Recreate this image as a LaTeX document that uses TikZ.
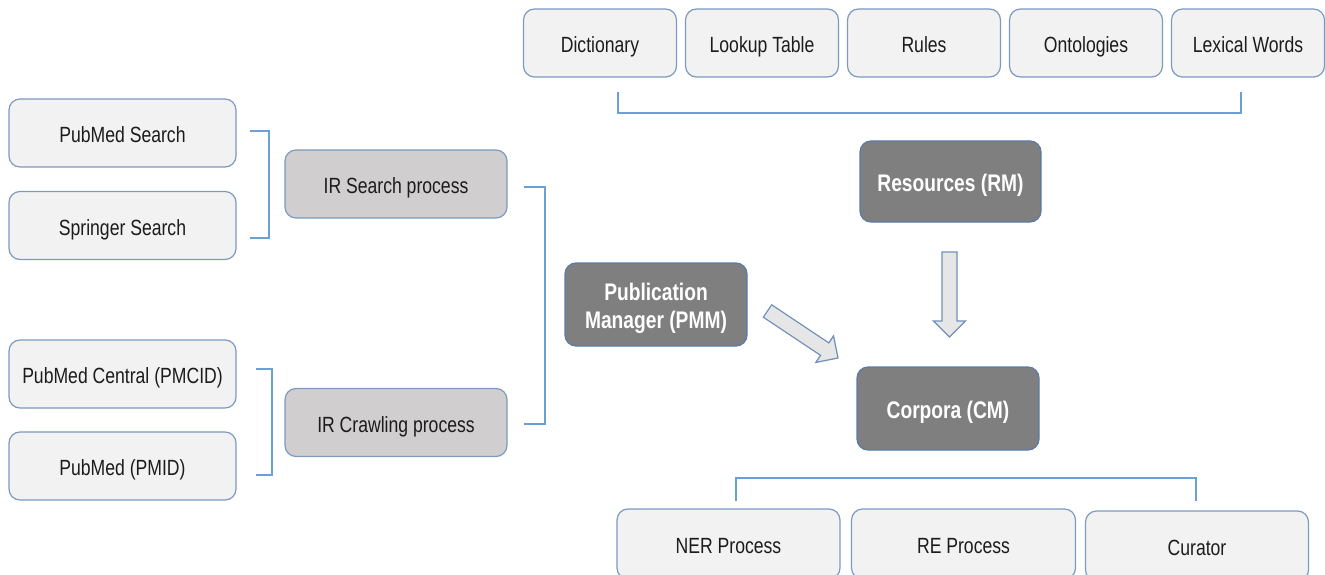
\documentclass[tikz,border=0pt]{standalone}
\usepackage{fontspec}
\setmainfont{Liberation Sans}[FakeStretch=0.8]
\usetikzlibrary{calc}

\definecolor{boxfill}{HTML}{F2F2F2}
\definecolor{boxline}{HTML}{7D9AC0}
\definecolor{midfill}{HTML}{D0CECE}
\definecolor{darkfill}{HTML}{7F7F7F}
\definecolor{darkline}{HTML}{5A7BA8}
\definecolor{bracket}{HTML}{6B9FD6}
\definecolor{arrowfill}{HTML}{E6E6E6}
\definecolor{arrowline}{HTML}{6F90BA}
\definecolor{ink}{HTML}{1C1C1C}

\tikzset{
  every node/.style={inner sep=0pt, outer sep=0pt},
  base/.style={rectangle, rounded corners=11pt, line width=1.2pt,
    font=\fontsize{22}{28}\selectfont, text=ink, align=center,
    text height=21pt, text depth=2pt},
  lightbox/.style={base, draw=boxline, fill=boxfill},
  midbox/.style={base, draw=boxline, fill=midfill},
  darkbox/.style={base, draw=darkline, fill=darkfill, text=white,
    font=\fontsize{24}{28}\selectfont\bfseries},
  brk/.style={draw=bracket, line width=1.5pt},
  blockarrow/.style={draw=arrowline, fill=arrowfill, line width=1.2pt, line join=miter}
}

\begin{document}
\begin{tikzpicture}[x=1pt, y=-1pt]
\useasboundingbox (0,0) rectangle (1325,575);

% resources row
\foreach \nm/\cx/\txt in {dict/600/Dictionary, lookup/762/Lookup Table,
    rules/924/Rules, onto/1086/Ontologies, lex/1248/Lexical Words}
  \node[lightbox, minimum width=153pt, minimum height=68pt] (\nm) at (\cx,43) {\txt};

% sources
\node[lightbox, minimum width=227pt, minimum height=68pt] (pms)  at (122.5,133)   {PubMed Search};
\node[lightbox, minimum width=227pt, minimum height=68pt] (sps)  at (122.5,225.5) {Springer Search};
\node[lightbox, minimum width=227pt, minimum height=68pt] (pmc)  at (122.5,374)   {PubMed Central (PMCID)};
\node[lightbox, minimum width=227pt, minimum height=68pt] (pmid) at (122.5,466)   {PubMed (PMID)};

% retrieval processes
\node[midbox, minimum width=222pt, minimum height=68pt] (irs) at (396,184)   {IR Search process};
\node[midbox, minimum width=222pt, minimum height=68pt] (irc) at (396,422.5) {IR Crawling process};

% managers (two-line label: baseline sits on the last line)
\node[darkbox, minimum width=182pt, minimum height=83pt, text height=49pt]
  (pmm) at (656,304.5) {Publication\\Manager (PMM)};
\node[darkbox, minimum width=181pt, minimum height=81pt] (rm)  at (950.5,181.5) {Resources (RM)};
\node[darkbox, minimum width=182pt, minimum height=83pt] (cm)  at (948,408.5) {Corpora (CM)};

% corpus processes
\node[lightbox, minimum width=223pt, minimum height=70pt] (ner) at (728.5,544) {NER Process};
\node[lightbox, minimum width=224pt, minimum height=70pt] (re)  at (963.5,544) {RE Process};
\node[lightbox, minimum width=223pt, minimum height=70pt] (cur) at (1197,546)  {Curator};

% brackets
\draw[brk] (250,131) -- (269,131) -- (269,238) -- (250,238);
\draw[brk] (256,369) -- (272,369) -- (272,475) -- (256,475);
\draw[brk] (524,187) -- (545,187) -- (545,424) -- (524,424);
\draw[brk] (618,92) -- (618,113) -- (1241,113) -- (1241,92);
\draw[brk] (736,501) -- (736,478) -- (1196,478) -- (1196,501);

% block arrows
\coordinate (rm-out) at (949.5,252);
\coordinate (cm-top) at (949.5,337);
\coordinate (pmm-out) at (767.5,311);
\coordinate (cm-left) at (838,358);
\foreach \a/\b in {rm-out/cm-top, pmm-out/cm-left}{
  \coordinate (h) at ($(\b)!16pt!(\a)$);
  \draw[blockarrow]
    ($(\a)!7.5pt!90:(\b)$) -- ($(h)!7.5pt!-90:(\a)$) -- ($(h)!16pt!-90:(\a)$)
    -- (\b) -- ($(h)!16pt!90:(\a)$) -- ($(h)!7.5pt!90:(\a)$)
    -- ($(\a)!7.5pt!-90:(\b)$) -- cycle;
}
\end{tikzpicture}
\end{document}
